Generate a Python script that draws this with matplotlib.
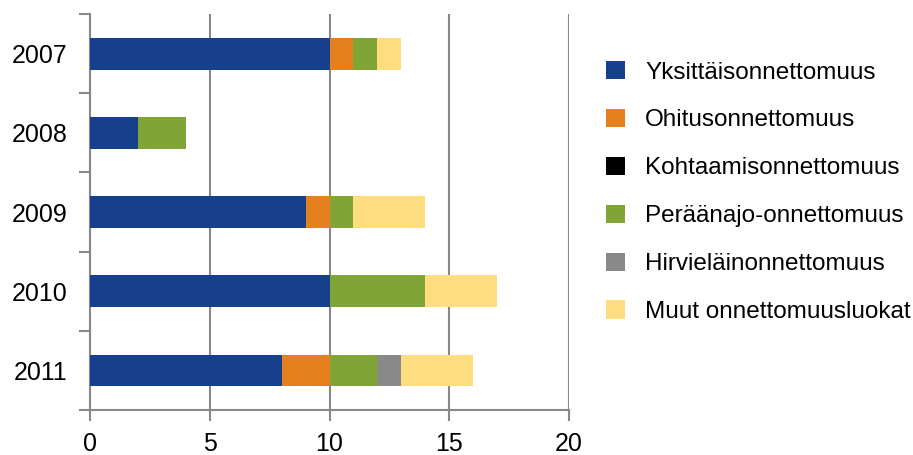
import matplotlib
matplotlib.use("Agg")
from matplotlib import pyplot as plt
import numpy as np

plt.rcParams['font.family'] = ['Liberation Sans', 'DejaVu Sans']

years = ['2007', '2008', '2009', '2010', '2011']
categories = ['Yksittäisonnettomuus', 'Ohitusonnettomuus', 'Kohtaamisonnettomuus',
              'Peräänajo-onnettomuus', 'Hirvieläinonnettomuus', 'Muut onnettomuusluokat']
yksittais = [10, 2, 9, 10, 8]
ohitus = [1, 0, 1, 0, 2]
kohtaamis = [0, 0, 0, 0, 0]
peraanajo = [1, 2, 1, 4, 2]
hirvi = [0, 0, 0, 0, 1]
muut = [1, 0, 3, 3, 3]
colors = ['#16408b', '#e5801e', '#000000', '#80a436', '#898989', '#fedc80']

series = [yksittais, ohitus, kohtaamis, peraanajo, hirvi, muut]

fig = plt.figure(figsize=(9.13, 4.55), dpi=100)
ax = fig.add_axes([0.0986, 0.099, 0.5246, 0.870])

y = np.arange(len(years))
left = np.zeros(len(years))
for vals, name, c in zip(series, categories, colors):
    ax.barh(y, vals, left=left, height=0.4, color=c, label=name, zorder=3)
    left += np.array(vals)

ax.set_ylim(len(years) - 0.5, -0.5)
ax.set_xlim(0, 20)
ax.set_xticks([0, 5, 10, 15, 20])
ax.set_yticks(y)
ax.set_yticklabels(years)
# category separators as minor ticks on the left axis
ax.set_yticks(np.arange(len(years) + 1) - 0.5, minor=True)
ax.tick_params(axis='y', which='major', length=0, pad=16, labelsize=18)
ax.tick_params(axis='y', which='minor', length=8, color='#888888', width=1.5)
ax.tick_params(axis='x', length=8, color='#888888', width=1.5, labelsize=18, pad=8)

ax.grid(axis='x', color='#888888', linewidth=1.5, zorder=0)
for s in ['top', 'right']:
    ax.spines[s].set_visible(False)
for s in ['left', 'bottom']:
    ax.spines[s].set_color('#888888')
    ax.spines[s].set_linewidth(1.5)

fig.legend(loc='upper left', bbox_to_anchor=(0.64, 0.914), frameon=False,
           fontsize=17.5, handlelength=0.78, handleheight=0.78,
           handletextpad=0.82, labelspacing=1.04)

fig.savefig('out.png', dpi=100)
